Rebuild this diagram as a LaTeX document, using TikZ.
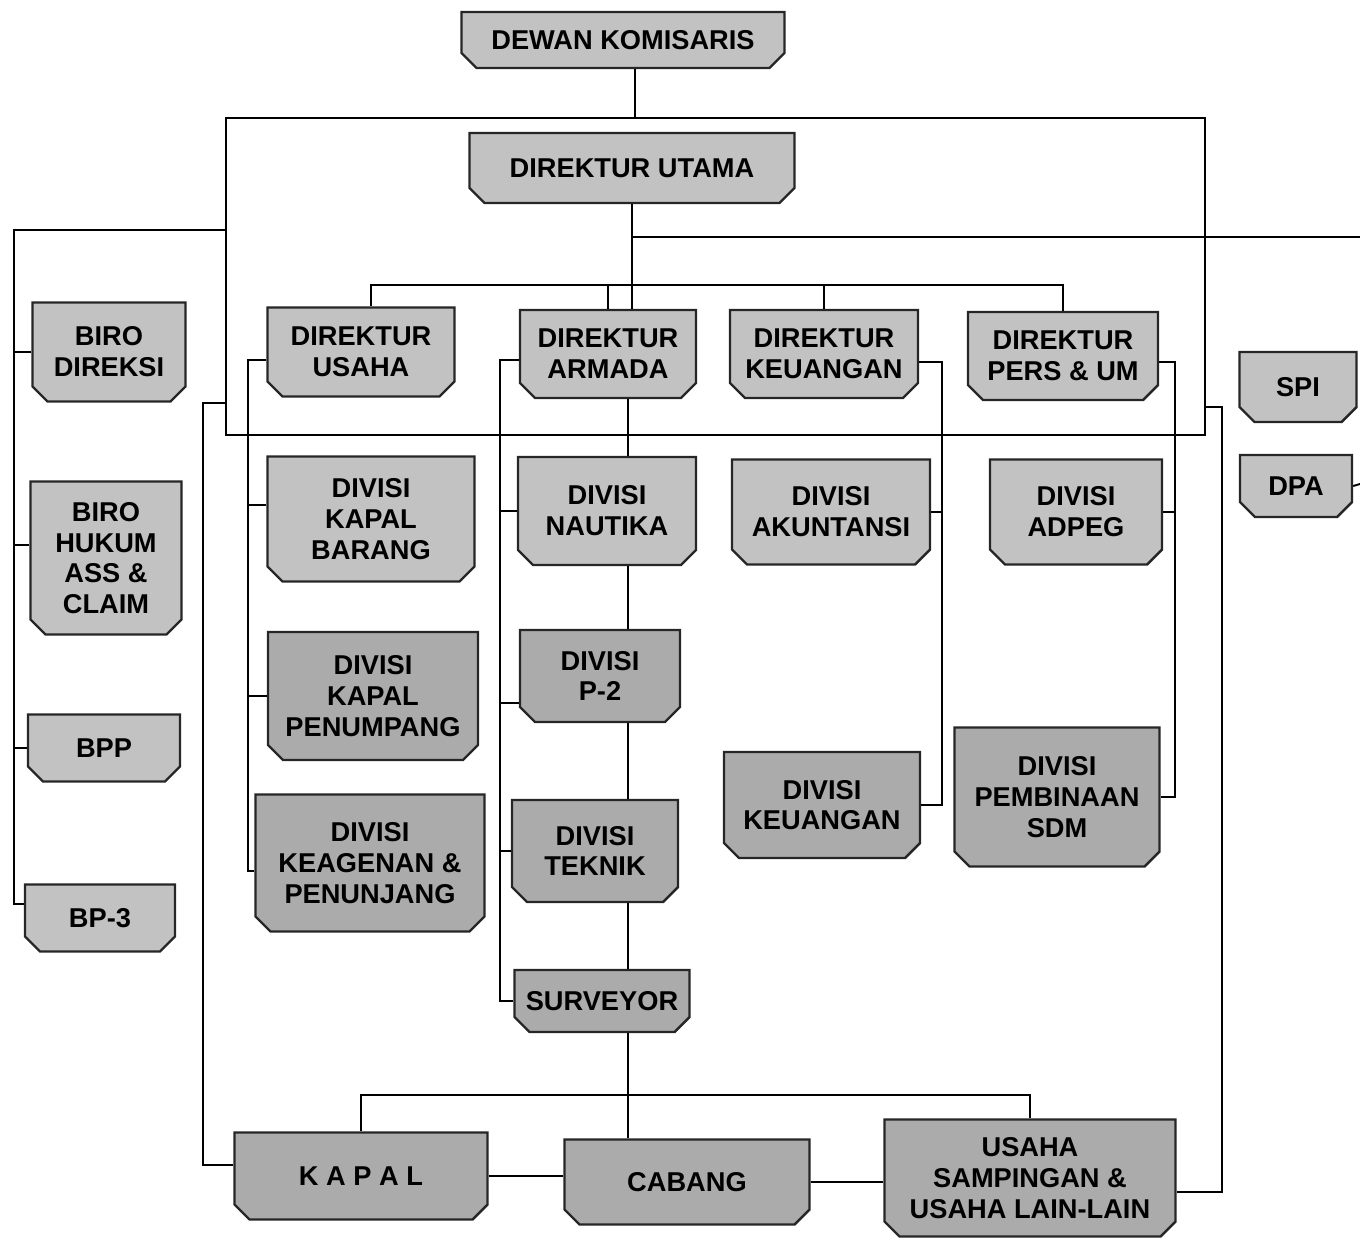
\documentclass[tikz,border=0pt]{standalone}
\usepackage{fontspec}
\setmainfont{Liberation Sans}
\usetikzlibrary{%
  shapes.misc,% chamfered rectangle
  positioning%
}

\begin{document}
\begin{tikzpicture}[x=0.02cm,y=-0.02cm,line width=1.1pt,
    unit/.style={chamfered rectangle,chamfered rectangle corners={south east,south west},
      chamfered rectangle xsep=0.15cm,chamfered rectangle ysep=0.15cm,
      draw=black!85,line width=1.4pt,fill=gray!48,inner sep=1pt,align=center,
      font=\bfseries\fontsize{15.5}{17.5}\selectfont},
    darkunit/.style={unit,fill=gray!66},
    wh/.style 2 args={minimum width=#1*0.02cm,minimum height=#2*0.02cm}]
  \useasboundingbox (0,0) rectangle (1360,1243);

  %top
  \node[unit,wh={323}{56}] (dk) at (623,40) {DEWAN KOMISARIS};
  \node[unit,wh={325}{70}] (du) at (632,168) {DIREKTUR UTAMA};

  %direktur
  \node[unit,wh={187}{89}] (dus) at (361,352) {DIREKTUR\\USAHA};
  \node[unit,wh={176}{88}] (dar) at (608,354) {DIREKTUR\\ARMADA};
  \node[unit,wh={188}{88}] (dke) at (824,354) {DIREKTUR\\KEUANGAN};
  \node[unit,wh={190}{88}] (dpu) at (1063,356) {DIREKTUR\\PERS \& UM};

  %biro
  \node[unit,wh={153}{99}] (bdi) at (109,352) {BIRO\\DIREKSI};
  \node[unit,wh={151}{153}] (bhk) at (106,558) {BIRO\\HUKUM\\ASS \&\\CLAIM};
  \node[unit,wh={152}{67}] (bpp) at (104,748) {BPP};
  \node[unit,wh={150}{67}] (bp3) at (100,918) {BP-3};
  \node[unit,wh={117}{70}] (spi) at (1298,387) {SPI};
  \node[unit,wh={112}{62}] (dpa) at (1296,486) {DPA};

  %divisi usaha
  \node[unit,wh={207}{125}] (vkb) at (371,519) {DIVISI\\KAPAL\\BARANG};
  \node[darkunit,wh={210}{128}] (vkp) at (373,696) {DIVISI\\KAPAL\\PENUMPANG};
  \node[darkunit,wh={229}{137}] (vkg) at (370,863) {DIVISI\\KEAGENAN \&\\PENUNJANG};

  %divisi armada
  \node[unit,wh={178}{108}] (vna) at (607,511) {DIVISI\\NAUTIKA};
  \node[darkunit,wh={160}{92}] (vp2) at (600,676) {DIVISI\\P-2};
  \node[darkunit,wh={166}{102}] (vte) at (595,851) {DIVISI\\TEKNIK};
  \node[darkunit,wh={175}{62}] (sur) at (602,1001) {SURVEYOR};

  %divisi keuangan, pers
  \node[unit,wh={198}{105}] (vak) at (831,512) {DIVISI\\AKUNTANSI};
  \node[darkunit,wh={196}{106}] (vku) at (822,805) {DIVISI\\KEUANGAN};
  \node[unit,wh={172}{105}] (vad) at (1076,512) {DIVISI\\ADPEG};
  \node[darkunit,wh={205}{139}] (vsd) at (1057,797) {DIVISI\\PEMBINAAN\\SDM};

  %bottom
  \node[darkunit,wh={253}{87}] (kap) at (361,1176) {K A P A L};
  \node[darkunit,wh={245}{85}] (cab) at (687,1182) {CABANG};
  \node[darkunit,wh={291}{117}] (usa) at (1030,1178) {USAHA\\SAMPINGAN \&\\USAHA LAIN-LAIN};

  %junctions
  \coordinate (ftl) at (226,118);
  \coordinate (fbr) at (1205,435);
  \coordinate (top) at (635,118);
  \coordinate (ux) at (632,237);
  \coordinate (rend) at (1360,237);
  \coordinate (dbus) at (371,285);
  \coordinate (lj) at (226,230);
  \coordinate (lbus) at (14,230);
  \coordinate (lk) at (226,403);
  \coordinate (lkb) at (203,403);
  \coordinate (rk) at (1205,407);
  \coordinate (rkb) at (1222,407);
  \coordinate (dpaend) at (1360,484);
  \coordinate (ubus) at (248,360);
  \coordinate (abus) at (500,360);
  \coordinate (bb) at (628,1095);
  \coordinate (kbus) at (942,362);
  \coordinate (pbus) at (1175,362);

  %frame
  \draw (ftl) rectangle (fbr);
  \draw (dk.south -| top) -- (top);
  \draw (du.south -| ux) -- (ux) -- (rend);
  \draw (ux) -- (dar.north -| ux);
  \draw (dus.north -| dbus) -- (dbus) -| (dpu.north);
  \draw (dar.north) -- (dar.north |- dbus);
  \draw (dke.north) -- (dke.north |- dbus);
  \draw (dpa.east) -- (dpaend);

  %biro
  \draw (lj) -- (lbus) |- ([yshift=0.28cm]bp3.west);
  \draw (bdi.west) -- (bdi.west -| lbus);
  \draw ([yshift=0.26cm]bhk.west) -- ([yshift=0.26cm]bhk.west -| lbus);
  \draw (bpp.west) -- (bpp.west -| lbus);

  %outer loops
  \draw (lk) -- (lkb) |- ([yshift=0.22cm]kap.west);
  \draw (rk) -- (rkb) |- ([yshift=-0.28cm]usa.east);

  %usaha
  \draw (dus.west |- ubus) -- (ubus) |- ([yshift=-0.16cm]vkg.west);
  \draw ([yshift=0.28cm]vkb.west) -- ([yshift=0.28cm]vkb.west -| ubus);
  \draw (vkp.west) -- (vkp.west -| ubus);

  %armada
  \draw (dar.west |- abus) -- (abus) |- (sur.west);
  \draw (vna.west) -- (vna.west -| abus);
  \draw ([yshift=-0.54cm]vp2.west) -- ([yshift=-0.54cm]vp2.west -| abus);
  \draw (vte.west) -- (vte.west -| abus);
  \draw (dar.south -| bb) -- (vna.north -| bb);
  \draw (vna.south -| bb) -- (vp2.north -| bb);
  \draw (vp2.south -| bb) -- (vte.north -| bb);
  \draw (vte.south -| bb) -- (sur.north -| bb);
  \draw (sur.south -| bb) -- (cab.north -| bb);

  %keuangan, pers
  \draw (dke.east |- kbus) -- (kbus) |- (vku.east);
  \draw (vak.east) -- (vak.east -| kbus);
  \draw (dpu.east |- pbus) -- (pbus) |- (vsd.east);
  \draw (vad.east) -- (vad.east -| pbus);

  %bottom
  \draw (kap.north) -- (kap.north |- bb) -- (usa.north |- bb) -- (usa.north);
  \draw (kap.east) -- (kap.east -| cab.west);
  \draw (cab.east) -- (cab.east -| usa.west);
\end{tikzpicture}
\end{document}
